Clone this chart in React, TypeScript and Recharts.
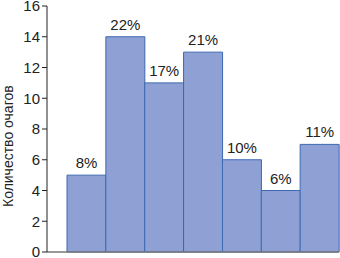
import { BarChart, Bar, XAxis, YAxis, LabelList } from 'recharts';

const groups = ['1', '2', '3', '4', '5', '6', '7'];
const counts = [5, 14, 11, 13, 6, 4, 7];
const shares = ['8%', '22%', '17%', '21%', '10%', '6%', '11%'];
const yTicks = [0, 2, 4, 6, 8, 10, 12, 14, 16];

const data = groups.map((g, i) => ({ group: g, count: counts[i], share: shares[i] }));

const font = 'Liberation Sans, Arial, sans-serif';

export default function App() {
  return (
    <div style={{ position: 'absolute', left: 0, top: 0, width: 340, height: 258, background: '#fff', fontFamily: font }}>
      <BarChart width={340} height={258} data={data} margin={{ top: 6, right: 1, bottom: 5, left: 0 }} barCategoryGap={0}>
        <XAxis
          dataKey="group"
          tick={false}
          tickLine={false}
          height={1}
          stroke="#777"
          strokeWidth={1.5}
          padding={{ left: 20, right: 0 }}
        />
        <YAxis
          width={47}
          domain={[0, 16]}
          ticks={yTicks}
          interval={0}
          stroke="#222"
          tickSize={5}
          tick={{ fill: '#222', fontSize: 15, fontFamily: font }}
          label={{
            value: 'Количество очагов',
            angle: -90,
            position: 'insideLeft',
            dx: 3,
            dy: 78,
            style: { fill: '#222', fontSize: 14, fontFamily: font },
          }}
        />
        <Bar dataKey="count" fill="#8fa1d4" stroke="#3b68b0" strokeWidth={1} isAnimationActive={false}>
          <LabelList dataKey="share" position="top" offset={7} style={{ fill: '#222', fontSize: 15, fontFamily: font }} />
        </Bar>
      </BarChart>
    </div>
  );
}
